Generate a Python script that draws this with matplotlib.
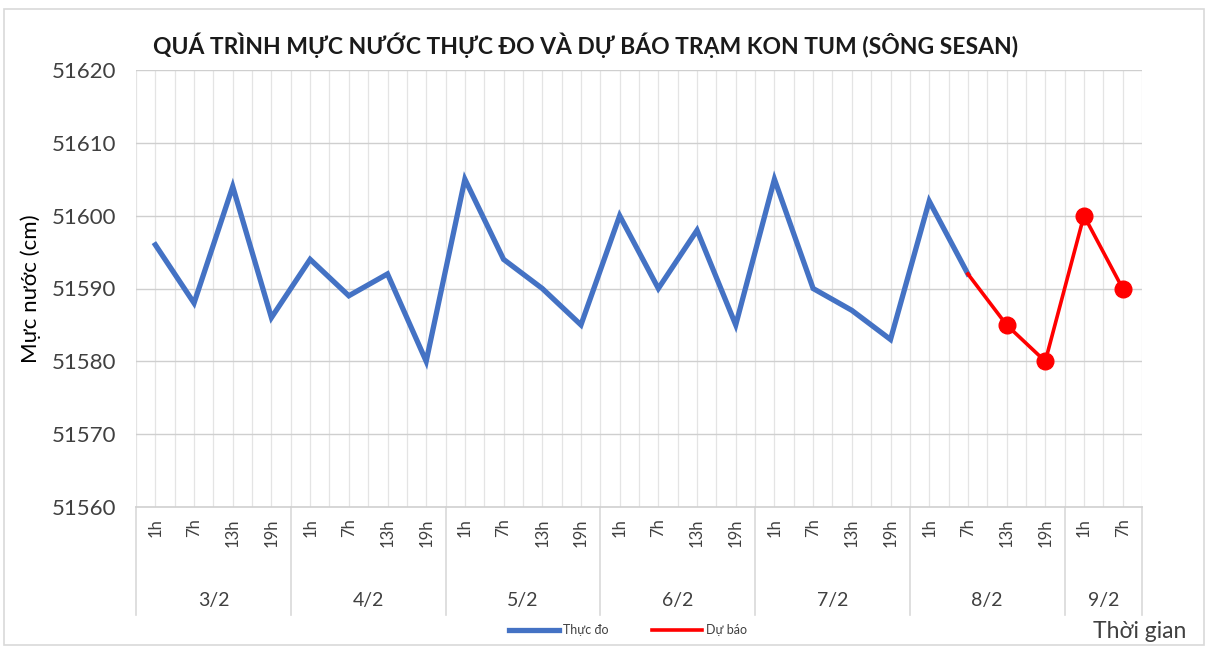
import matplotlib
matplotlib.use("Agg")
import matplotlib.pyplot as plt
from matplotlib.patches import Rectangle
import matplotlib.transforms as mtransforms

plt.rcParams['font.family'] = ['Lato', 'DejaVu Sans']

dates = ["3/2", "4/2", "5/2", "6/2", "7/2", "8/2", "9/2"]
hours_per_date = [["1h", "7h", "13h", "19h"]] * 6 + [["1h", "7h"]]
hours = [h for grp in hours_per_date for h in grp]

observed = [51596, 51588, 51604, 51586,
            51594, 51589, 51592, 51580,
            51605, 51594, 51590, 51585,
            51600, 51590, 51598, 51585,
            51605, 51590, 51587, 51583,
            51602, 51592]
forecast_start = 21
forecast = [51592, 51585, 51580, 51600, 51590]

yticks = [51560, 51570, 51580, 51590, 51600, 51610, 51620]

fig = plt.figure(figsize=(12.12, 6.53), dpi=100)
ax = fig.add_axes([136/1212, 1-507/653, (1142-136)/1212, (507-70)/653])

n = len(hours)
x_obs = list(range(len(observed)))
x_fc = list(range(forecast_start, forecast_start + len(forecast)))

# grid
for i in range(2*n + 1):
    xv = -0.5 + i*0.5
    ax.axvline(xv, color='#e4e4e4', lw=0.9, zorder=0)
for yv in yticks[1:]:
    ax.axhline(yv, color='#cfcfcf', lw=1.0, zorder=0.5)

ax.plot(x_obs, observed, color='#4472c4', lw=3.8, solid_joinstyle='miter', zorder=3, label='Thực đo')
ax.plot(x_fc, forecast, color='#ff0000', lw=2.6, zorder=4, label='Dự báo')
ax.plot(x_fc[1:], forecast[1:], 'o', color='#ff0000', ms=12, zorder=5)

ax.set_xlim(-0.5, n - 0.5)
ax.set_ylim(yticks[0], yticks[-1])
ax.set_yticks(yticks)
ax.set_yticklabels([str(v) for v in yticks], fontsize=16, color='#404040')
ax.set_xticks(range(n))
ax.set_xticklabels(hours, rotation=90, fontsize=12, color='#404040')
ax.tick_params(axis='both', length=0)
ax.tick_params(axis='x', pad=8)
ax.tick_params(axis='y', pad=14)

for s in ['top', 'right', 'left']:
    ax.spines[s].set_visible(False)
ax.spines['bottom'].set_color('#d0d0d0')
ax.spines['bottom'].set_linewidth(1.2)

trans = mtransforms.blended_transform_factory(ax.transData, ax.transAxes)
start = 0
bounds = [-0.5]
for d, grp in zip(dates, hours_per_date):
    end = start + len(grp)
    bounds.append(end - 0.5)
    ax.text((start + end - 1) / 2, -0.213, d, transform=trans, ha='center', va='center',
            fontsize=14, color='#404040')
    start = end
for b in bounds:
    ax.plot([b, b], [0, -0.247], transform=trans, color='#d9d9d9', lw=1.2, clip_on=False)

ax.set_ylabel('Mực nước (cm)', fontsize=16, color='black', labelpad=8)

fig.text(586/1212, 1-45/653, 'QUÁ TRÌNH MỰC NƯỚC THỰC ĐO VÀ DỰ BÁO TRẠM KON TUM (SÔNG SESAN)',
         ha='center', va='center', fontsize=16.5, fontweight='bold', color='#1a1a1a')
fig.text(1140/1212, 1-632/653, 'Thời gian', ha='center', va='center', fontsize=16.5, color='#404040')

leg = fig.legend(loc='center', bbox_to_anchor=(628/1212, 1-630/653), ncol=2, frameon=False,
                 fontsize=9, handlelength=4, handletextpad=0.3, columnspacing=3.5)
for t in leg.get_texts():
    t.set_color('#404040')

fig.patches.append(Rectangle((4/1212, 8/653), 1200/1212, 636/653, transform=fig.transFigure,
                             fill=False, edgecolor='#d9d9d9', lw=1.2))

fig.savefig('out.png', dpi=100)
